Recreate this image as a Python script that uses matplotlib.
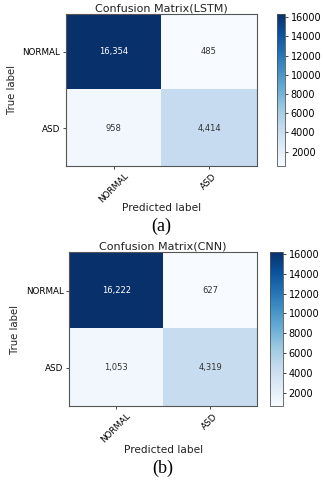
import numpy as np
import matplotlib
matplotlib.use("Agg")
import matplotlib.pyplot as plt

# --- data ---
classes = ["NORMAL", "ASD"]
cm_lstm = np.array([[16354, 485],
                    [958, 4414]])
cm_cnn = np.array([[16222, 627],
                   [1053, 4319]])

panels = [
    # (matrix, title, caption, axes rect, colorbar rect, caption y, xlabel y)
    (cm_lstm, "Confusion Matrix(LSTM)", "(a)",
     [0.204, 0.654, 0.591, 0.317], [0.858, 0.654, 0.025, 0.317], 0.529, 0.567),
    (cm_cnn, "Confusion Matrix(CNN)", "(b)",
     [0.214, 0.154, 0.582, 0.321], [0.836, 0.154, 0.040, 0.321], 0.025, 0.0625),
]

plt.rcParams["font.family"] = "DejaVu Sans"
fig = plt.figure(figsize=(3.23, 4.8), dpi=100)

for cm, title, cap, rect, crect, cap_y, xl_y in panels:
    ax = fig.add_axes(rect)
    im = ax.imshow(cm, cmap="Blues", aspect="auto", interpolation="nearest")
    ax.set_title(title, fontsize=8, pad=1.5, color="#222222")
    ax.set_xticks(range(len(classes)))
    ax.set_yticks(range(len(classes)))
    ax.set_xticklabels(classes, rotation=45, fontsize=6.3)
    ax.set_yticklabels(classes, fontsize=6.3)
    ax.tick_params(length=2.5, width=0.5, pad=1.5)
    ax.set_ylabel("True label", fontsize=7.3, labelpad=4, color="#222222")
    for s in ax.spines.values():
        s.set_linewidth(0.8)
        s.set_color("#555555")

    thresh = cm.max() / 2.0
    for i in range(cm.shape[0]):
        for j in range(cm.shape[1]):
            ax.text(j, i, f"{cm[i, j]:,}", ha="center", va="center", fontsize=6,
                    color="white" if cm[i, j] > thresh else "#333333")

    cax = fig.add_axes(crect)
    cb = fig.colorbar(im, cax=cax)
    cb.set_ticks(np.arange(2000, 16001, 2000))
    cb.ax.tick_params(labelsize=7, length=2.5, width=0.5, pad=1.5)
    cb.outline.set_linewidth(0.6)
    cb.outline.set_edgecolor("#555555")

    cx = rect[0] + rect[2] / 2
    fig.text(cx, xl_y, "Predicted label", ha="center", va="center", fontsize=7.6,
             color="#222222")
    fig.text(cx, cap_y, cap, ha="center", va="center", fontsize=13,
             family="Liberation Serif")

fig.savefig("out.png", dpi=100)
